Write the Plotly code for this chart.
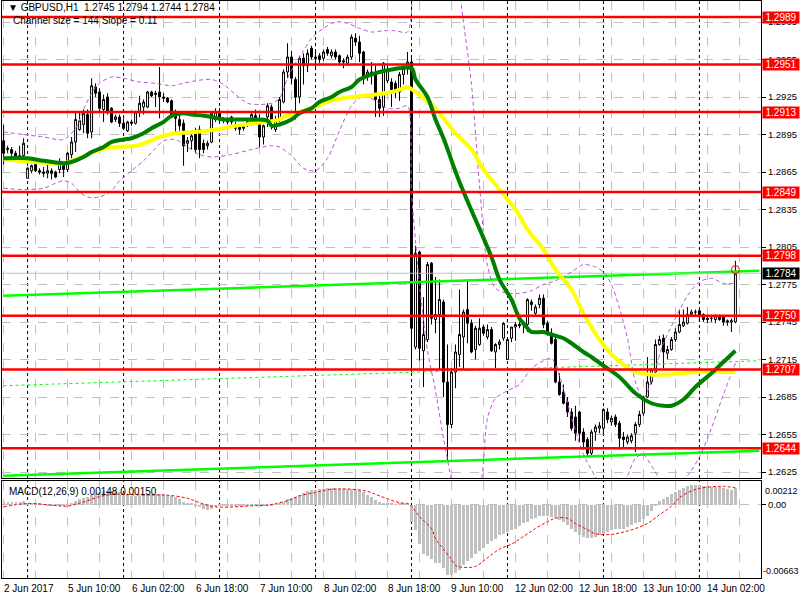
import plotly.graph_objects as go

title_text = "▼ GBPUSD,H1  1.2745 1.2794 1.2744 1.2784"
channel_text = "Channel size = 144 Slope = 0.11"
macd_text = "MACD(12,26,9) 0.00148 0.00150"

open_ = [
    1.2890, 1.2883, 1.2883, 1.2880, 1.2877, 1.2878, 1.2860, 1.2866, 1.2871, 1.2866,
    1.2865, 1.2864, 1.2866, 1.2865, 1.2867, 1.2872, 1.2867, 1.2879, 1.2889, 1.2899,
    1.2903, 1.2911, 1.2897, 1.2933, 1.2929, 1.2915, 1.2925, 1.2916, 1.2907, 1.2909,
    1.2904, 1.2898, 1.2905, 1.2904, 1.2913, 1.2917, 1.2917, 1.2929, 1.2927, 1.2929,
    1.2925, 1.2924, 1.2922, 1.2911, 1.2907, 1.2904, 1.2888, 1.2890, 1.2897, 1.2899,
    1.2888, 1.2886, 1.2889, 1.2907, 1.2913, 1.2907, 1.2906, 1.2909, 1.2903, 1.2902,
    1.2900, 1.2903, 1.2903, 1.2910, 1.2907, 1.2893, 1.2909, 1.2917, 1.2899, 1.2907,
    1.2921, 1.2945, 1.2957, 1.2939, 1.2925, 1.2956, 1.2950, 1.2964, 1.2957, 1.2958,
    1.2956, 1.2963, 1.2958, 1.2961, 1.2958, 1.2954, 1.2952, 1.2957, 1.2972, 1.2969,
    1.2961, 1.2941, 1.2945, 1.2944, 1.2923, 1.2917, 1.2938, 1.2937, 1.2936, 1.2929,
    1.2943, 1.2948, 1.2953, 1.2725, 1.2801, 1.2722, 1.2731, 1.2792, 1.2747, 1.2751,
    1.2761, 1.2697, 1.2663, 1.2705, 1.2719, 1.2733, 1.2755, 1.2744, 1.2723, 1.2727,
    1.2741, 1.2733, 1.2739, 1.2721, 1.2727, 1.2732, 1.2715, 1.2732, 1.2741, 1.2743,
    1.2743, 1.2743, 1.2761, 1.2752, 1.2759, 1.2764, 1.2744, 1.2735, 1.2731, 1.2697,
    1.2689, 1.2681, 1.2673, 1.2669, 1.2673, 1.2657, 1.2651, 1.2640, 1.2657, 1.2660,
    1.2660, 1.2673, 1.2665, 1.2669, 1.2664, 1.2653, 1.2649, 1.2650, 1.2656, 1.2663,
    1.2672, 1.2685, 1.2697, 1.2705, 1.2727, 1.2732, 1.2720, 1.2723, 1.2731, 1.2737,
    1.2742, 1.2744, 1.2751, 1.2753, 1.2754, 1.2751, 1.2748, 1.2748, 1.2747, 1.2750,
    1.2749, 1.2746, 1.2745, 1.2745,
]
high = [
    1.2903, 1.2886, 1.2885, 1.2882, 1.2886, 1.2892, 1.2869, 1.2871, 1.2873, 1.2868,
    1.2869, 1.2871, 1.2868, 1.2866, 1.2876, 1.2873, 1.2881, 1.2893, 1.2913, 1.2913,
    1.2915, 1.2915, 1.2940, 1.2936, 1.2932, 1.2927, 1.2928, 1.2917, 1.2911, 1.2911,
    1.2908, 1.2906, 1.2907, 1.2914, 1.2926, 1.2923, 1.2930, 1.2930, 1.2930, 1.2949,
    1.2928, 1.2925, 1.2923, 1.2915, 1.2913, 1.2907, 1.2893, 1.2898, 1.2900, 1.2902,
    1.2891, 1.2890, 1.2913, 1.2916, 1.2916, 1.2909, 1.2908, 1.2910, 1.2905, 1.2903,
    1.2903, 1.2906, 1.2912, 1.2915, 1.2911, 1.2903, 1.2920, 1.2919, 1.2910, 1.2925,
    1.2947, 1.2968, 1.2962, 1.2941, 1.2958, 1.2960, 1.2963, 1.2966, 1.2961, 1.2960,
    1.2963, 1.2965, 1.2963, 1.2963, 1.2959, 1.2956, 1.2959, 1.2975, 1.2976, 1.2974,
    1.2962, 1.2947, 1.2953, 1.2950, 1.2926, 1.2953, 1.2950, 1.2940, 1.2938, 1.2945,
    1.2950, 1.2961, 1.2957, 1.2806, 1.2802, 1.2765, 1.2793, 1.2793, 1.2781, 1.2779,
    1.2763, 1.2727, 1.2708, 1.2727, 1.2771, 1.2755, 1.2779, 1.2747, 1.2742, 1.2748,
    1.2743, 1.2743, 1.2741, 1.2728, 1.2731, 1.2745, 1.2733, 1.2741, 1.2745, 1.2745,
    1.2746, 1.2764, 1.2763, 1.2759, 1.2767, 1.2767, 1.2746, 1.2740, 1.2733, 1.2704,
    1.2695, 1.2685, 1.2676, 1.2678, 1.2674, 1.2660, 1.2653, 1.2659, 1.2663, 1.2665,
    1.2676, 1.2676, 1.2670, 1.2671, 1.2666, 1.2657, 1.2655, 1.2656, 1.2665, 1.2674,
    1.2686, 1.2717, 1.2708, 1.2731, 1.2734, 1.2735, 1.2726, 1.2733, 1.2740, 1.2755,
    1.2755, 1.2757, 1.2755, 1.2755, 1.2755, 1.2752, 1.2750, 1.2750, 1.2751, 1.2751,
    1.2750, 1.2747, 1.2748, 1.2794,
]
low = [
    1.2871, 1.2880, 1.2876, 1.2875, 1.2876, 1.2877, 1.2860, 1.2864, 1.2865, 1.2863,
    1.2861, 1.2860, 1.2859, 1.2860, 1.2864, 1.2861, 1.2865, 1.2876, 1.2881, 1.2898,
    1.2896, 1.2892, 1.2892, 1.2925, 1.2913, 1.2905, 1.2911, 1.2904, 1.2905, 1.2901,
    1.2899, 1.2897, 1.2902, 1.2903, 1.2909, 1.2911, 1.2916, 1.2925, 1.2917, 1.2908,
    1.2921, 1.2920, 1.2908, 1.2897, 1.2898, 1.2870, 1.2881, 1.2883, 1.2880, 1.2876,
    1.2880, 1.2883, 1.2888, 1.2905, 1.2905, 1.2904, 1.2903, 1.2903, 1.2898, 1.2895,
    1.2898, 1.2901, 1.2902, 1.2904, 1.2885, 1.2887, 1.2901, 1.2899, 1.2897, 1.2905,
    1.2920, 1.2940, 1.2935, 1.2907, 1.2920, 1.2935, 1.2945, 1.2955, 1.2947, 1.2952,
    1.2954, 1.2958, 1.2956, 1.2955, 1.2951, 1.2948, 1.2950, 1.2955, 1.2966, 1.2953,
    1.2935, 1.2938, 1.2935, 1.2909, 1.2909, 1.2910, 1.2936, 1.2917, 1.2924, 1.2922,
    1.2935, 1.2943, 1.2705, 1.2723, 1.2714, 1.2693, 1.2729, 1.2743, 1.2736, 1.2707,
    1.2685, 1.2633, 1.2660, 1.2692, 1.2709, 1.2707, 1.2728, 1.2720, 1.2715, 1.2726,
    1.2734, 1.2731, 1.2721, 1.2708, 1.2723, 1.2730, 1.2715, 1.2729, 1.2730, 1.2740,
    1.2736, 1.2737, 1.2754, 1.2749, 1.2756, 1.2740, 1.2734, 1.2727, 1.2696, 1.2686,
    1.2679, 1.2669, 1.2658, 1.2650, 1.2649, 1.2643, 1.2637, 1.2637, 1.2650, 1.2656,
    1.2655, 1.2664, 1.2662, 1.2661, 1.2643, 1.2645, 1.2647, 1.2648, 1.2641, 1.2661,
    1.2670, 1.2684, 1.2695, 1.2703, 1.2726, 1.2708, 1.2715, 1.2722, 1.2729, 1.2736,
    1.2741, 1.2743, 1.2749, 1.2749, 1.2745, 1.2745, 1.2744, 1.2745, 1.2744, 1.2746,
    1.2742, 1.2742, 1.2737, 1.2744,
]
close = [
    1.2880, 1.2884, 1.2880, 1.2877, 1.2878, 1.2888, 1.2868, 1.2870, 1.2866, 1.2865,
    1.2864, 1.2866, 1.2864, 1.2861, 1.2872, 1.2867, 1.2880, 1.2889, 1.2907, 1.2906,
    1.2912, 1.2896, 1.2934, 1.2928, 1.2916, 1.2923, 1.2913, 1.2905, 1.2909, 1.2904,
    1.2900, 1.2905, 1.2904, 1.2913, 1.2920, 1.2921, 1.2929, 1.2926, 1.2928, 1.2925,
    1.2924, 1.2921, 1.2909, 1.2908, 1.2902, 1.2886, 1.2890, 1.2894, 1.2883, 1.2883,
    1.2883, 1.2888, 1.2912, 1.2913, 1.2907, 1.2906, 1.2905, 1.2905, 1.2900, 1.2899,
    1.2901, 1.2905, 1.2911, 1.2905, 1.2893, 1.2902, 1.2918, 1.2905, 1.2906, 1.2923,
    1.2945, 1.2957, 1.2940, 1.2925, 1.2956, 1.2950, 1.2960, 1.2957, 1.2956, 1.2955,
    1.2961, 1.2960, 1.2961, 1.2957, 1.2953, 1.2953, 1.2957, 1.2973, 1.2969, 1.2960,
    1.2940, 1.2945, 1.2943, 1.2923, 1.2916, 1.2952, 1.2947, 1.2931, 1.2929, 1.2943,
    1.2948, 1.2953, 1.2740, 1.2800, 1.2724, 1.2735, 1.2791, 1.2748, 1.2751, 1.2763,
    1.2697, 1.2663, 1.2705, 1.2721, 1.2735, 1.2753, 1.2744, 1.2721, 1.2740, 1.2740,
    1.2736, 1.2739, 1.2722, 1.2727, 1.2729, 1.2744, 1.2731, 1.2741, 1.2743, 1.2742,
    1.2745, 1.2763, 1.2759, 1.2757, 1.2764, 1.2743, 1.2735, 1.2728, 1.2697, 1.2687,
    1.2680, 1.2673, 1.2660, 1.2656, 1.2656, 1.2649, 1.2640, 1.2657, 1.2661, 1.2662,
    1.2675, 1.2667, 1.2668, 1.2663, 1.2652, 1.2651, 1.2653, 1.2654, 1.2663, 1.2671,
    1.2685, 1.2697, 1.2707, 1.2727, 1.2731, 1.2721, 1.2723, 1.2731, 1.2737, 1.2743,
    1.2745, 1.2751, 1.2753, 1.2753, 1.2750, 1.2747, 1.2747, 1.2748, 1.2750, 1.2747,
    1.2745, 1.2745, 1.2746, 1.2784,
]
bars = list(range(len(close)))

# moving averages (read at sample bars)
ma_green_bar = [0, 6, 10, 15, 17, 20, 22, 25, 27, 30, 32, 35, 37, 40, 42, 45, 47, 50, 52, 55, 57, 62,
                66, 67, 69, 72, 74, 77, 79, 82, 84, 87, 89, 92, 94, 97, 99, 102, 103, 106, 108, 110,
                114, 122, 124, 127, 129, 131, 132, 135, 137, 140, 142, 145, 147, 150, 154, 158, 162,
                165, 167, 170, 173, 177, 180, 183]
ma_green_val = [1.2876, 1.2876, 1.2874, 1.2872, 1.2873, 1.2877, 1.2881, 1.2885, 1.2889, 1.2891, 1.2892,
                1.2896, 1.2900, 1.2905, 1.2910, 1.2912, 1.2911, 1.2910, 1.2909, 1.2907, 1.2907, 1.2907,
                1.2906, 1.2902, 1.2903, 1.2907, 1.2912, 1.2916, 1.2921, 1.2925, 1.2929, 1.2933, 1.2939,
                1.2943, 1.2945, 1.2947, 1.2948, 1.2948, 1.2939, 1.2925, 1.2907, 1.2892,
                1.2857, 1.2797, 1.2779, 1.2763, 1.2748, 1.2740, 1.2737, 1.2737, 1.2735, 1.2732,
                1.2728, 1.2721, 1.2717, 1.2710, 1.2701, 1.2688, 1.2680, 1.2678, 1.2678, 1.2683,
                1.2693, 1.2704, 1.2713, 1.2722]
ma_yellow_bar = [0, 8, 15, 18, 21, 24, 28, 33, 36, 39, 43, 48, 53, 58, 63, 69, 70, 73, 77, 80, 83, 87,
                 90, 93, 97, 100, 101, 103, 107, 110, 113, 117, 120, 124, 128, 131, 135, 138, 142,
                 145, 149, 152, 155, 158, 162, 166, 170, 174, 178, 183]
ma_yellow_val = [1.2875, 1.2873, 1.2872, 1.2875, 1.2879, 1.2883, 1.2885, 1.2886, 1.2889, 1.2893, 1.2896,
                 1.2897, 1.2899, 1.2902, 1.2904, 1.2907, 1.2909, 1.2912, 1.2916, 1.2920, 1.2923, 1.2925,
                 1.2926, 1.2927, 1.2929, 1.2932, 1.2933, 1.2929, 1.2919, 1.2908, 1.2896, 1.2883, 1.2867,
                 1.2851, 1.2835, 1.2819, 1.2803, 1.2787, 1.2771, 1.2752, 1.2731, 1.2719, 1.2711,
                 1.2705, 1.2703, 1.2703, 1.2704, 1.2705, 1.2705, 1.2705]

# band lines (dashed violet), read at sample bars; values outside the price range leave the panel
band_up_bar = [0, 5, 10, 15, 18, 20, 22, 24, 27, 30, 34, 38, 42, 45, 48, 52, 55, 58, 61, 64, 67, 69,
               71, 73, 75, 77, 80, 83, 86, 89, 92, 95, 98, 101, 102]
band_up_val = [1.2897, 1.2895, 1.2893, 1.2891, 1.2900, 1.2915, 1.2928, 1.2936, 1.2941, 1.2940, 1.2937,
               1.2936, 1.2934, 1.2936, 1.2938, 1.2939, 1.2935, 1.2927, 1.2920, 1.2919, 1.2920, 1.2924,
               1.2940, 1.2952, 1.2962, 1.2972, 1.2980, 1.2985, 1.2984, 1.2980, 1.2977, 1.2978, 1.2978,
               1.2977, 1.3040]
band_up2_bar = [112, 114, 115, 117, 119, 121, 123, 126, 129, 132, 135, 138, 142, 145, 148, 150, 152,
                154, 156, 158, 160, 162, 165, 168, 171, 174, 177, 180, 183]
band_up2_val = [1.3060, 1.3010, 1.2985, 1.2935, 1.2855, 1.2790, 1.2772, 1.2768, 1.2768, 1.2770, 1.2775,
                1.2778, 1.2785, 1.2791, 1.2789, 1.2785, 1.2775, 1.2756, 1.2732, 1.2697, 1.2684, 1.2698,
                1.2728, 1.2748, 1.2766, 1.2777, 1.2780, 1.2776, 1.2776]
band_lo_bar = [0, 5, 10, 13, 15, 17, 19, 21, 24, 27, 29, 32, 35, 38, 40, 43, 46, 49, 52, 57, 62, 67,
               69, 72, 75, 78, 81, 84, 87, 90, 93, 96, 99, 101, 102, 103, 104, 106, 108, 110, 112, 114]
band_lo_val = [1.2852, 1.2851, 1.2852, 1.2856, 1.2858, 1.2856, 1.2849, 1.2845, 1.2845, 1.2850, 1.2858,
               1.2866, 1.2874, 1.2884, 1.2890, 1.2891, 1.2885, 1.2879, 1.2877, 1.2879, 1.2883, 1.2886,
               1.2885, 1.2878, 1.2868, 1.2866, 1.2876, 1.2898, 1.2918, 1.2926, 1.2922, 1.2916, 1.2916,
               1.2918, 1.2848, 1.2810, 1.2775, 1.2722, 1.2690, 1.2652, 1.2618, 1.2580]
band_lo2_bar = [118, 120, 121, 123, 126, 129, 132, 135, 137, 139, 142, 145, 148, 150, 153, 156, 158,
                160, 162, 165, 168, 171, 174, 177, 180, 183]
band_lo2_val = [1.2570, 1.2633, 1.2668, 1.2684, 1.2690, 1.2695, 1.2708, 1.2714, 1.2716, 1.2702, 1.2669,
                1.2639, 1.2621, 1.2608, 1.2605, 1.2622, 1.2636, 1.2639, 1.2630, 1.2616, 1.2614, 1.2622,
                1.2637, 1.2660, 1.2687, 1.2712]

# regression channel end points
channel_bar = [0, 189]
channel_top = [1.2766, 1.2786]
channel_mid = [1.2694, 1.2714]
channel_bot = [1.2622, 1.2642]

red_levels = [1.2989, 1.2951, 1.2913, 1.2849, 1.2798, 1.2750, 1.2707, 1.2644]
bid_price = 1.2784
alert_price = 1.2787
price_ticks = [1.2985, 1.2955, 1.2925, 1.2895, 1.2865, 1.2835, 1.2805, 1.2775,
               1.2745, 1.2715, 1.2685, 1.2655, 1.2625]

macd_main = [
    0.0002, 0.0002, 0.0002, 0.0002, 0.00025, 0.00034, 0.0001, 0.0001, 0.00008, 0.00005,
    0.00003, -0.00005, -0.0001, -0.0001, -0.00012, -0.0001, -0.0001, 0.0001, 0.00034, 0.00047,
    0.0006, 0.00065, 0.00086, 0.00102, 0.00112, 0.00118, 0.00124, 0.00124, 0.00118, 0.00115,
    0.0010, 0.0009, 0.00078, 0.00078, 0.0008, 0.00083, 0.00086, 0.00093, 0.00096, 0.00096,
    0.00093, 0.00086, 0.00078, 0.00065, 0.00047, 0.00025, 0.00016, 0.00009, -0.00006, -0.00021,
    -0.00037, -0.00046, -0.00037, -0.00021, -0.00015, -0.00012, -0.0001, -0.0001, -0.00012, -0.00014,
    -0.00014, -0.00012, -0.0001, -0.0001, -0.00012, -0.00014, -0.0001, -0.00006, -0.00002, 0.00009,
    0.00025, 0.00047, 0.00062, 0.00071, 0.00086, 0.00102, 0.00118, 0.00127, 0.00133, 0.0014,
    0.00143, 0.00146, 0.00146, 0.00146, 0.00143, 0.0014, 0.0014, 0.00143, 0.0014, 0.00127,
    0.00109, 0.00086, 0.00065, 0.0004, 0.00025, 0.00016, 0.00009, 0.00009, 0.00003, 0.0001,
    0.0001, 0.0001, -0.00155, -0.00233, -0.00357, -0.00444, -0.00465, -0.00496, -0.00527, -0.00527,
    -0.00574, -0.00636, -0.00636, -0.0062, -0.00589, -0.00549, -0.00512, -0.00481, -0.0045, -0.00419,
    -0.00388, -0.00357, -0.00326, -0.0031, -0.00279, -0.0027, -0.00248, -0.00233, -0.00217, -0.00196,
    -0.00171, -0.00155, -0.00134, -0.00124, -0.00103, -0.00103, -0.00103, -0.0011, -0.00124, -0.0014,
    -0.00155, -0.00186, -0.00217, -0.00248, -0.00279, -0.00295, -0.00304, -0.003, -0.0029, -0.00279,
    -0.0027, -0.00248, -0.00233, -0.00224, -0.0022, -0.00217, -0.00202, -0.00186, -0.00171, -0.00155,
    -0.00134, -0.00103, -0.00062, -0.00016, 0.00031, 0.00052, 0.00071, 0.00093, 0.00114, 0.00133,
    0.00145, 0.00164, 0.00176, 0.00176, 0.00179, 0.0017, 0.00164, 0.00161, 0.00154, 0.00154,
    0.00145, 0.00139, 0.00133, 0.00148,
]
signal_bar = [0, 6, 12, 16, 18, 21, 24, 28, 33, 38, 41, 46, 49, 53, 62, 66, 68, 71, 74, 78, 81, 86, 91,
              94, 99, 101, 102, 104, 107, 108, 110, 112, 113, 115, 118, 121, 124, 127, 130, 133, 136,
              138, 141, 143, 146, 148, 152, 155, 158, 161, 164, 167, 169, 172, 174, 177, 180, 183]
signal_val = [-0.00021, 0.00009, -0.00006, -0.00015, 0.00003, 0.00034, 0.00071, 0.00093, 0.00086,
              0.00086, 0.00084, 0.00056, 0.00016, -0.00021, -0.00012, -0.00006, 0.00009, 0.00034,
              0.00078, 0.00109, 0.00133, 0.0014, 0.00118, 0.00078, 0.00016, 0.00009, -0.00016,
              -0.00109, -0.00217, -0.0031, -0.00403, -0.00496, -0.00549, -0.00567, -0.00558, -0.00481,
              -0.00403, -0.00357, -0.00289, -0.00217, -0.00155, -0.00124, -0.00124, -0.00171, -0.00227,
              -0.00264, -0.0027, -0.00248, -0.00217, -0.00171, -0.00093, -0.00016, 0.0006, 0.00123,
              0.00145, 0.0016, 0.00164, 0.0015]

tick_bars = [0, 16, 32, 48, 64, 80, 96, 112, 128, 144, 160, 176]
tick_labels = ["2 Jun 2017", "5 Jun 10:00", "6 Jun 02:00", "6 Jun 18:00", "7 Jun 10:00",
               "8 Jun 02:00", "8 Jun 18:00", "9 Jun 10:00", "12 Jun 02:00", "12 Jun 18:00",
               "13 Jun 10:00", "14 Jun 02:00"]
day_bars = [6, 30, 54, 78, 102, 126, 150, 174]
macd_top, macd_bottom = 0.00212, -0.00663

FONT = "Liberation Sans"
X_RANGE = [-0.4, 189.4]
P_RANGE = [1.26202, 1.30018]

fig = go.Figure()

fig.add_trace(go.Candlestick(
    x=bars, open=open_, high=high, low=low, close=close, xaxis="x", yaxis="y",
    increasing=dict(line=dict(color="black", width=1), fillcolor="white"),
    decreasing=dict(line=dict(color="black", width=1), fillcolor="black"),
    whiskerwidth=0, showlegend=False, hoverinfo="skip"))

lime = "#00FF00"
fig.add_trace(go.Scatter(x=channel_bar, y=channel_top, mode="lines", line=dict(color=lime, width=2.5),
                         showlegend=False, hoverinfo="skip"))
fig.add_trace(go.Scatter(x=channel_bar, y=channel_bot, mode="lines", line=dict(color=lime, width=2.5),
                         showlegend=False, hoverinfo="skip"))
fig.add_trace(go.Scatter(x=channel_bar, y=channel_mid, mode="lines", line=dict(color=lime, width=1, dash="3px,3px"),
                         showlegend=False, hoverinfo="skip"))
fig.add_trace(go.Scatter(x=[X_RANGE[0], X_RANGE[1]], y=[bid_price, bid_price], mode="lines",
                         line=dict(color="#C0C0C0", width=1), showlegend=False, hoverinfo="skip"))

for bx, by in ((band_up_bar, band_up_val), (band_up2_bar, band_up2_val),
               (band_lo_bar, band_lo_val), (band_lo2_bar, band_lo2_val)):
    fig.add_trace(go.Scatter(x=bx, y=by, mode="lines",
                             line=dict(color="#BA55D3", width=1, dash="4px,3px", shape="spline", smoothing=0.8),
                             showlegend=False, hoverinfo="skip"))

fig.add_trace(go.Scatter(x=ma_yellow_bar, y=ma_yellow_val, mode="lines",
                         line=dict(color="#FFFF00", width=4, shape="spline"), showlegend=False, hoverinfo="skip"))
fig.add_trace(go.Scatter(x=ma_green_bar, y=ma_green_val, mode="lines",
                         line=dict(color="#008000", width=4, shape="spline"), showlegend=False, hoverinfo="skip"))

fig.add_trace(go.Scatter(x=[bars[-1]], y=[alert_price], mode="markers",
                         marker=dict(symbol="circle-open", color="red", size=8, line=dict(width=1)),
                         showlegend=False, hoverinfo="skip"))

# MACD panel
fig.add_trace(go.Bar(x=bars, y=macd_main, xaxis="x2", yaxis="y2", marker=dict(color="#C0C0C0", line=dict(width=0)),
                     width=0.55, showlegend=False, hoverinfo="skip"))
fig.add_trace(go.Scatter(x=signal_bar, y=signal_val, xaxis="x2", yaxis="y2", mode="lines",
                         line=dict(color="red", width=1, dash="3px,2px", shape="spline"),
                         showlegend=False, hoverinfo="skip"))

shapes = []
for lv in red_levels:
    shapes.append(dict(type="line", xref="x", yref="y", x0=X_RANGE[0], x1=X_RANGE[1], y0=lv, y1=lv,
                       line=dict(color="red", width=2.5), layer="above"))
for d in day_bars:
    for yr in ("y domain", "y2 domain"):
        shapes.append(dict(type="line", xref="x", yref=yr, x0=d, x1=d, y0=0, y1=1,
                           line=dict(color="black", width=1, dash="3px,3px"), layer="below"))

annotations = []
for lv in red_levels:
    annotations.append(dict(xref="paper", yref="y", x=1, y=lv, xanchor="left", yanchor="middle", xshift=1,
                            text="%.4f" % lv, showarrow=False, bgcolor="red",
                            font=dict(family=FONT, size=10, color="white"), width=36, height=11, borderpad=0))
annotations.append(dict(xref="paper", yref="y", x=1, y=bid_price, xanchor="left", yanchor="middle", xshift=1,
                        text="%.4f" % bid_price, showarrow=False, bgcolor="black",
                        font=dict(family=FONT, size=10, color="white"), width=36, height=11, borderpad=0))
for tb, tl in zip(tick_bars, tick_labels):
    annotations.append(dict(xref="x2", yref="paper", x=tb, y=-0.0175, xanchor="left", yanchor="middle",
                            xshift=-2, text=tl, showarrow=False, font=dict(family=FONT, size=10, color="black")))
annotations.append(dict(xref="paper", yref="paper", x=0, y=1, xanchor="left", yanchor="top", xshift=4, yshift=1,
                        text=title_text, showarrow=False, font=dict(family=FONT, size=10, color="black")))
annotations.append(dict(xref="paper", yref="paper", x=0, y=1, xanchor="left", yanchor="top", xshift=9, yshift=-12,
                        text=channel_text, showarrow=False, font=dict(family=FONT, size=10, color="black")))
annotations.append(dict(xref="paper", yref="y2 domain", x=0, y=1, xanchor="left", yanchor="top", xshift=5, yshift=-3,
                        text=macd_text, showarrow=False, font=dict(family=FONT, size=10, color="black")))
annotations.append(dict(xref="paper", yref="y2 domain", x=1, y=1, xanchor="left", yanchor="top", xshift=2, yshift=-3,
                        text="%.5f" % macd_top, showarrow=False, font=dict(family=FONT, size=9, color="black")))
annotations.append(dict(xref="paper", yref="y2 domain", x=1, y=0, xanchor="left", yanchor="bottom", xshift=0, yshift=0,
                        text="%.5f" % macd_bottom, showarrow=False, font=dict(family=FONT, size=9, color="black")))

grid_bars = list(range(0, 190, 8))
axis_common = dict(showline=True, linecolor="black", linewidth=1, mirror=True, zeroline=False, automargin=False)
xax = dict(range=X_RANGE, tickvals=grid_bars, ticktext=[""] * len(grid_bars), ticks="",
           showgrid=True, gridcolor="#C0C0C0", griddash="dash", gridwidth=1, rangeslider=dict(visible=False),
           **axis_common)

fig.update_layout(
    width=800, height=600, margin=dict(l=2, r=39, t=1, b=22, autoexpand=False),
    paper_bgcolor="white", plot_bgcolor="white", showlegend=False, bargap=0,
    font=dict(family=FONT, size=10, color="black"),
    xaxis=dict(anchor="y", **xax),
    xaxis2=dict(anchor="y2", matches="x", **xax),
    yaxis=dict(domain=[100 / 577, 1], range=P_RANGE, side="right", tickvals=price_ticks,
               ticktext=["%.4f" % t for t in price_ticks], ticks="outside", ticklen=4, tickcolor="black",
               showgrid=True, gridcolor="#C0C0C0", griddash="dash", tickfont=dict(family=FONT, size=9.5),
               **axis_common),
    yaxis2=dict(domain=[0, 97 / 577], range=[macd_bottom, macd_top], side="right", tickvals=[0],
                ticktext=["0.00"], ticks="outside", ticklen=4, tickcolor="black",
                showgrid=True, gridcolor="#C0C0C0", griddash="dash", tickfont=dict(family=FONT, size=9.5),
                **axis_common),
    shapes=shapes, annotations=annotations,
)

fig.write_html("out.html", config={"displayModeBar": False},
               post_script="document.body.style.margin='0';document.body.style.padding='0';"
                           "document.body.style.overflow='hidden';")
